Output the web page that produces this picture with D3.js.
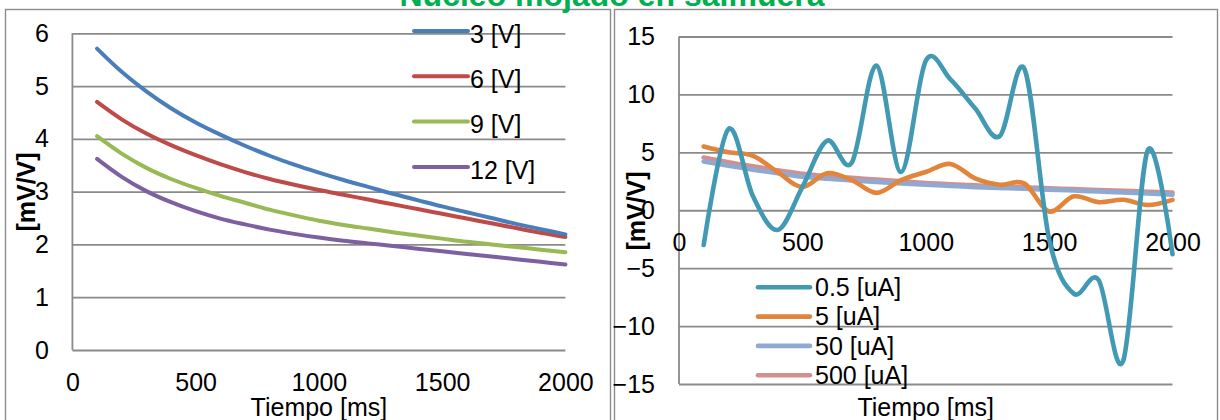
<!DOCTYPE html>
<html>
<head>
<meta charset="utf-8">
<script src="https://cdn.jsdelivr.net/npm/d3@7"></script>
<style>
  body { margin: 0; background: #fff; }
  svg { display: block; font-family: "Liberation Sans", Arial, sans-serif; }
</style>
</head>
<body>
<svg id="chart" width="1220" height="420"></svg>
<script>
// Sample times (ms)
const tiempo = [100, 200, 300, 400, 500, 600, 700, 800, 900, 1000,
                1100, 1200, 1300, 1400, 1500, 1600, 1700, 1800, 1900, 2000];

// Left panel: response per excitation voltage [mV/V]
const seriesV = ["3 [V]", "6 [V]", "9 [V]", "12 [V]"];
const v3  = [5.71, 5.27, 4.90, 4.58, 4.31, 4.08, 3.87, 3.68, 3.51, 3.36, 3.22, 3.09, 2.96, 2.84, 2.72, 2.61, 2.50, 2.39, 2.29, 2.19];
const v6  = [4.70, 4.37, 4.10, 3.88, 3.69, 3.52, 3.37, 3.24, 3.13, 3.03, 2.94, 2.85, 2.76, 2.67, 2.58, 2.49, 2.40, 2.31, 2.22, 2.14];
const v9  = [4.05, 3.72, 3.45, 3.24, 3.07, 2.92, 2.79, 2.66, 2.55, 2.45, 2.37, 2.30, 2.23, 2.17, 2.11, 2.05, 2.00, 1.95, 1.90, 1.85];
const v12 = [3.62, 3.28, 3.01, 2.80, 2.63, 2.49, 2.38, 2.28, 2.20, 2.13, 2.07, 2.02, 1.97, 1.92, 1.87, 1.82, 1.77, 1.72, 1.67, 1.62];

// Right panel: response per excitation current [mV/V]
const seriesUA = ["0.5 [uA]", "5 [uA]", "50 [uA]", "500 [uA]"];
const ua05  = [-3.0, 7.0, 1.2, -1.7, 2.0, 6.0, 4.1, 12.5, 3.3, 12.9, 11.3, 8.8, 6.4, 12.2, -2.5, -7.2, -6.0, -13.0, 5.2, -3.8];
const ua5   = [5.5, 5.0, 4.7, 3.3, 2.0, 3.2, 2.6, 1.5, 2.6, 3.3, 4.0, 2.75, 2.2, 2.3, -0.1, 1.2, 0.7, 0.9, 0.45, 0.9];
const ua50  = [4.2, 3.85, 3.5, 3.2, 2.9, 2.72, 2.58, 2.45, 2.32, 2.2, 2.1, 2.0, 1.92, 1.85, 1.78, 1.7, 1.62, 1.53, 1.44, 1.35];
const ua500 = [4.55, 4.15, 3.8, 3.45, 3.15, 2.95, 2.8, 2.65, 2.5, 2.35, 2.25, 2.15, 2.05, 1.97, 1.9, 1.82, 1.75, 1.68, 1.6, 1.52];

// Axis ticks and labels
const xTicks = [0, 500, 1000, 1500, 2000];
const yTicksV = [0, 1, 2, 3, 4, 5, 6];
const yTicksUA = [-15, -10, -5, 0, 5, 10, 15];
const titulo = "Núcleo mojado en salmuera";
const etiquetaX = "Tiempo [ms]";
const etiquetaY = "[mV/V]";

const svg = d3.select("#chart");
const GRID = "#8a8a8a";
const FRAME = "#8c8c8c";
const FONT = 25;

function panel(cfg) {
  const g = svg.append("g");
  // chart frame
  g.append("rect")
    .attr("x", cfg.frame[0]).attr("y", cfg.frame[1])
    .attr("width", cfg.frame[2]).attr("height", cfg.frame[3])
    .attr("fill", "#fff").attr("stroke", FRAME).attr("stroke-width", 1.4);

  const x = d3.scaleLinear().domain([0, 2000]).range(cfg.xr);
  const y = d3.scaleLinear().domain(cfg.ydom).range(cfg.yr);

  // horizontal gridlines
  const grid = d3.axisLeft(y).tickValues(cfg.yTicks).tickSize(-(cfg.xr[1] - cfg.xr[0])).tickFormat("");
  g.append("g").attr("transform", `translate(${cfg.xr[0]},0)`).call(grid)
    .call(s => s.select(".domain").remove())
    .call(s => s.selectAll("line").attr("stroke", GRID).attr("stroke-width", 1.8));

  // vertical axis line
  g.append("line")
    .attr("x1", cfg.xr[0]).attr("x2", cfg.xr[0])
    .attr("y1", y(cfg.ydom[1])).attr("y2", y(cfg.ydom[0]))
    .attr("stroke", GRID).attr("stroke-width", 1.8);

  // y tick labels
  const yAx = d3.axisLeft(y).tickValues(cfg.yTicks).tickSize(0)
    .tickPadding(cfg.xr[0] - cfg.yLabelRight).tickFormat(d3.format("d"));
  g.append("g").attr("transform", `translate(${cfg.xr[0]},0)`).call(yAx)
    .call(s => s.select(".domain").remove())
    .call(s => s.selectAll("text").attr("font-size", FONT).attr("font-family", null).attr("fill", "#000"));

  // x tick labels (baseline at xLabelY)
  const xAx = d3.axisBottom(x).tickValues(xTicks).tickSize(0).tickPadding(0).tickFormat(d3.format("d"));
  g.append("g").attr("transform", `translate(0,${cfg.xLabelY})`).call(xAx)
    .call(s => s.select(".domain").remove())
    .call(s => s.selectAll("text").attr("font-size", FONT).attr("font-family", null)
      .attr("fill", "#000").attr("dy", null).attr("y", 0));

  // axis titles
  g.append("text").attr("x", (cfg.xr[0] + cfg.xr[1]) / 2).attr("y", 416)
    .attr("text-anchor", "middle").attr("font-size", FONT).text(etiquetaX);
  g.append("text")
    .attr("transform", `translate(${cfg.yTitle[0]},${cfg.yTitle[1]}) rotate(-90)`)
    .attr("text-anchor", "middle").attr("font-size", FONT).attr("font-weight", "bold")
    .text(etiquetaY);

  // series lines (first series drawn on top)
  const line = d3.line().x((d, i) => x(tiempo[i])).y(d => y(d)).curve(d3.curveCardinal.tension(0));
  cfg.series.slice().reverse().forEach(s => {
    g.append("path").attr("d", line(s.values)).attr("fill", "none")
      .attr("stroke", s.color).attr("stroke-width", cfg.lw)
      .attr("stroke-linecap", "round").attr("stroke-linejoin", "round");
  });

  // legend
  cfg.series.forEach((s, i) => {
    const ly = cfg.legend.y0 + i * cfg.legend.dy;
    g.append("line").attr("x1", cfg.legend.x0).attr("x2", cfg.legend.x1)
      .attr("y1", ly).attr("y2", ly)
      .attr("stroke", s.color).attr("stroke-width", cfg.lw).attr("stroke-linecap", "round");
    g.append("text").attr("x", cfg.legend.tx).attr("y", ly + cfg.legend.tdy).attr("dy", "0.35em")
      .attr("font-size", FONT).text(s.name);
  });
}

panel({
  frame: [5.5, 9.5, 605, 430],
  xr: [72.4, 565.4], ydom: [0, 6], yr: [350, 33.3], yTicks: yTicksV,
  yLabelRight: 49, xLabelY: 391, yTitle: [35, 192], lw: 4,
  series: [
    { name: seriesV[0], values: v3,  color: "#4a7ebb" },
    { name: seriesV[1], values: v6,  color: "#be4b48" },
    { name: seriesV[2], values: v9,  color: "#98b954" },
    { name: seriesV[3], values: v12, color: "#7d60a0" }
  ],
  legend: { x0: 414, x1: 468, tx: 470, y0: 31, dy: 45.3, tdy: 3 }
});

panel({
  frame: [614.5, 9.5, 603, 430],
  xr: [679, 1172.5], ydom: [-15, 15], yr: [384, 36.5], yTicks: yTicksUA,
  yLabelRight: 655, xLabelY: 251, yTitle: [645, 211], lw: 4.6,
  series: [
    { name: seriesUA[0], values: ua05,  color: "#4199b4" },
    { name: seriesUA[1], values: ua5,   color: "#e2843a" },
    { name: seriesUA[2], values: ua50,  color: "#8eaad2" },
    { name: seriesUA[3], values: ua500, color: "#d38f90" }
  ],
  legend: { x0: 758, x1: 810, tx: 815, y0: 287.3, dy: 29.3, tdy: 0 }
});

// title, partly above the top edge
svg.append("text").attr("x", 612).attr("y", 6)
  .attr("text-anchor", "middle").attr("font-size", 32).attr("font-weight", "bold")
  .attr("fill", "#00b050").text(titulo);
</script>
</body>
</html>
